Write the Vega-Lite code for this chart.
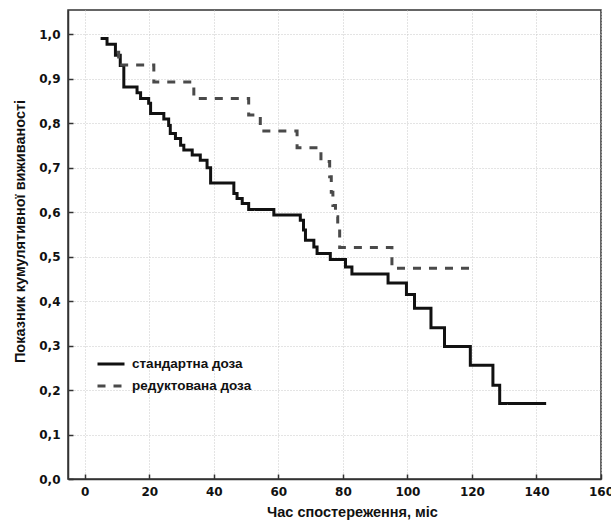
{
  "$schema": "https://vega.github.io/schema/vega-lite/v6.json",
  "autosize": "none",
  "width": 533,
  "height": 469,
  "padding": {"left": 68, "top": 10, "right": 10, "bottom": 42},
  "background": "white",
  "config": {
    "view": {"stroke": "#333333", "strokeWidth": 1.5},
    "font": "DejaVu Sans",
    "axis": {
      "labelFont": "DejaVu Sans",
      "labelFontWeight": "bold",
      "labelFontSize": 12,
      "labelColor": "#111111",
      "titleFont": "Liberation Sans",
      "titleFontWeight": "bold",
      "titleFontSize": 14.5,
      "titleColor": "#111111",
      "domainColor": "#333333",
      "domainWidth": 1.5,
      "tickColor": "#333333",
      "tickWidth": 1.5,
      "tickSize": -5,
      "gridColor": "#c8c8c8",
      "gridDash": [1, 2],
      "gridWidth": 1
    }
  },
  "data": {
    "values": [
      {"group": "стандартна доза", "t": 4.9, "s": 0.991},
      {"group": "стандартна доза", "t": 6.9, "s": 0.978},
      {"group": "стандартна доза", "t": 9.5, "s": 0.953},
      {"group": "стандартна доза", "t": 11.0, "s": 0.93},
      {"group": "стандартна доза", "t": 12.1, "s": 0.882},
      {"group": "стандартна доза", "t": 16.2, "s": 0.869},
      {"group": "стандартна доза", "t": 17.3, "s": 0.856},
      {"group": "стандартна доза", "t": 19.8, "s": 0.845},
      {"group": "стандартна доза", "t": 20.4, "s": 0.822},
      {"group": "стандартна доза", "t": 24.5, "s": 0.81},
      {"group": "стандартна доза", "t": 26.0, "s": 0.795},
      {"group": "стандартна доза", "t": 26.5, "s": 0.777},
      {"group": "стандартна доза", "t": 28.1, "s": 0.766},
      {"group": "стандартна доза", "t": 29.7, "s": 0.751},
      {"group": "стандартна доза", "t": 30.7, "s": 0.74},
      {"group": "стандартна доза", "t": 33.3, "s": 0.729},
      {"group": "стандартна доза", "t": 35.8, "s": 0.717},
      {"group": "стандартна доза", "t": 37.9, "s": 0.7},
      {"group": "стандартна доза", "t": 39.0, "s": 0.666},
      {"group": "стандартна доза", "t": 46.2, "s": 0.642},
      {"group": "стандартна доза", "t": 47.2, "s": 0.631},
      {"group": "стандартна доза", "t": 48.8, "s": 0.62},
      {"group": "стандартна доза", "t": 50.8, "s": 0.606},
      {"group": "стандартна доза", "t": 58.6, "s": 0.594},
      {"group": "стандартна доза", "t": 66.8, "s": 0.582},
      {"group": "стандартна доза", "t": 67.8, "s": 0.56},
      {"group": "стандартна доза", "t": 68.4, "s": 0.537},
      {"group": "стандартна доза", "t": 71.0, "s": 0.522},
      {"group": "стандартна доза", "t": 72.0, "s": 0.507},
      {"group": "стандартна доза", "t": 76.1, "s": 0.494},
      {"group": "стандартна доза", "t": 80.8, "s": 0.477},
      {"group": "стандартна доза", "t": 82.8, "s": 0.461},
      {"group": "стандартна доза", "t": 94.0, "s": 0.441},
      {"group": "стандартна доза", "t": 99.7, "s": 0.415},
      {"group": "стандартна доза", "t": 102.2, "s": 0.384},
      {"group": "стандартна доза", "t": 107.3, "s": 0.34},
      {"group": "стандартна доза", "t": 111.5, "s": 0.298},
      {"group": "стандартна доза", "t": 119.5, "s": 0.256},
      {"group": "стандартна доза", "t": 126.5, "s": 0.211},
      {"group": "стандартна доза", "t": 128.6, "s": 0.17},
      {"group": "стандартна доза", "t": 143.0, "s": 0.17},
      {"group": "редуктована доза", "t": 10.0, "s": 0.96},
      {"group": "редуктована доза", "t": 10.5, "s": 0.931},
      {"group": "редуктована доза", "t": 21.4, "s": 0.893},
      {"group": "редуктована доза", "t": 33.8, "s": 0.856},
      {"group": "редуктована доза", "t": 50.8, "s": 0.819},
      {"group": "редуктована доза", "t": 54.4, "s": 0.783},
      {"group": "редуктована доза", "t": 65.8, "s": 0.745},
      {"group": "редуктована доза", "t": 73.2, "s": 0.714},
      {"group": "редуктована доза", "t": 75.9, "s": 0.68},
      {"group": "редуктована доза", "t": 76.4, "s": 0.645},
      {"group": "редуктована доза", "t": 76.9, "s": 0.615},
      {"group": "редуктована доза", "t": 77.7, "s": 0.59},
      {"group": "редуктована доза", "t": 78.4, "s": 0.565},
      {"group": "редуктована доза", "t": 79.0, "s": 0.521},
      {"group": "редуктована доза", "t": 95.2, "s": 0.474},
      {"group": "редуктована доза", "t": 121.4, "s": 0.474}
    ]
  },
  "mark": {"type": "line", "interpolate": "step-after"},
  "encoding": {
    "x": {
      "field": "t", "type": "quantitative",
      "scale": {"domain": [-5.2, 160], "nice": false, "zero": false},
      "axis": {"values": [0, 20, 40, 60, 80, 100, 120, 140, 160], "title": "Час спостереження, міс", "labelPadding": 12, "titlePadding": 8, "labelFlush": false, "titleX": 284}
    },
    "y": {
      "field": "s", "type": "quantitative",
      "scale": {"domain": [0, 1.055], "nice": false},
      "axis": {"values": [0, 0.1, 0.2, 0.3, 0.4, 0.5, 0.6, 0.7, 0.8, 0.9, 1.0], "labelExpr": "replace(format(datum.value, '.1f'), '.', ',')", "title": "Показник кумулятивної виживаності", "labelPadding": 13, "titlePadding": 11, "titleY": 221}
    },
    "color": {
      "field": "group", "type": "nominal",
      "scale": {"domain": ["стандартна доза", "редуктована доза"], "range": ["#111111", "#4a4a4a"]},
      "legend": {"title": null, "orient": "none", "legendX": 28, "legendY": 339, "symbolType": "stroke", "symbolSize": 729, "symbolStrokeWidth": 3, "labelFont": "Liberation Sans", "labelFontWeight": "bold", "labelFontSize": 13.5, "labelColor": "#111111", "rowPadding": -12, "labelOffset": 6}
    },
    "strokeDash": {
      "field": "group", "type": "nominal",
      "scale": {"domain": ["стандартна доза", "редуктована доза"], "range": [[1, 0], [8, 8]]}
    },
    "strokeWidth": {"value": 3}
  }
}
